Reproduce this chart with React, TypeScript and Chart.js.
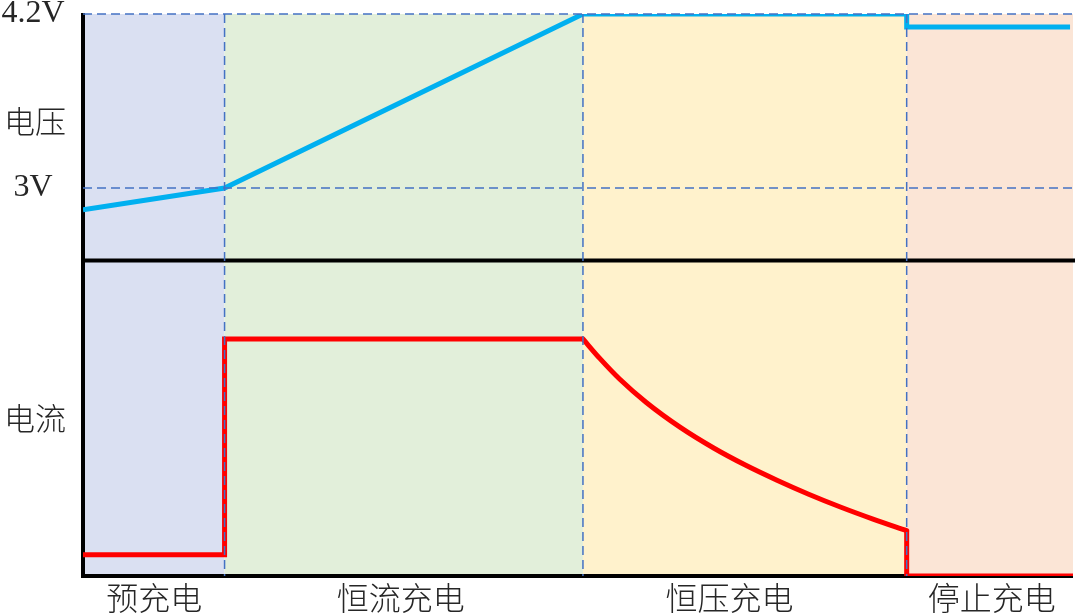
import { useEffect, useRef } from "react";
import { Chart, registerables } from "chart.js";

Chart.register(...registerables);

// time axis runs 0..100, phases split at these points
const phaseNames = ["预充电", "恒流充电", "恒压充电", "停止充电"];
const phaseEdges = [0, 14.3, 50.5, 83.2, 100];
const phaseLabelX = [7.2, 32.1, 65.3, 91.8];
const phaseColors = ["#DAE0F2", "#E2EFDA", "#FFF2CC", "#FBE5D6"];

const voltageTicks = [4.2, 3];
const voltageTickLabels = ["4.2V", "3V"];
const voltageSplit = 2.5;

const panelTitles = ["电压", "电流"];
const panelTitleAt = [3.46, 0.667];

const voltageX = [0, 14.3, 50.5, 83.2, 83.2, 99.7];
const voltageY = [2.85, 3.0, 4.2, 4.2, 4.11, 4.11];

const currentStepX = [0, 14.3, 14.3, 50.5];
const currentStepY = [0.09, 0.09, 1.0, 1.0];

const currentTaperX = [50.5, 52.2, 54.2, 56.9, 60.3, 63.7, 66.9, 70.1, 73.3, 76.5, 79.8, 83.2];
const currentTaperY = [1.0, 0.918, 0.831, 0.732, 0.628, 0.54, 0.468, 0.404, 0.345, 0.291, 0.24, 0.191];

const currentStopX = [83.2, 83.2, 100];
const currentStopY = [0.191, 0, 0];

const toPoints = (xs: number[], ys: number[]) => xs.map((x, i) => ({ x, y: ys[i] }));

const TEXT_COLOR = "#262626";
const DASH_COLOR = "#4472C4";
const CJK_FONT = '"Noto Sans CJK SC", sans-serif';

const phasePlugin = {
  id: "phases",
  beforeDatasetsDraw(chart: any) {
    const { ctx, chartArea, scales } = chart;
    const { left, right, top, bottom } = chartArea;
    ctx.save();
    phaseColors.forEach((color, i) => {
      const x0 = scales.x.getPixelForValue(phaseEdges[i]);
      const x1 = scales.x.getPixelForValue(phaseEdges[i + 1]);
      ctx.fillStyle = color;
      ctx.fillRect(x0, top, x1 - x0, bottom - top);
    });

    ctx.strokeStyle = "#000";
    ctx.lineWidth = 4;
    ctx.beginPath();
    ctx.moveTo(left, top - 1);
    ctx.lineTo(left, bottom + 2);
    ctx.moveTo(left, bottom);
    ctx.lineTo(right, bottom);
    const mid = scales.yV.getPixelForValue(voltageSplit);
    ctx.moveTo(left, mid);
    ctx.lineTo(right + 2, mid);
    ctx.stroke();
    ctx.restore();
  },
  afterDatasetsDraw(chart: any) {
    const { ctx, chartArea, scales } = chart;
    const { left, right, top, bottom } = chartArea;
    ctx.save();
    ctx.strokeStyle = DASH_COLOR;
    ctx.lineWidth = 1.5;
    ctx.setLineDash([9, 5]);
    ctx.beginPath();
    voltageTicks.forEach((v) => {
      const y = scales.yV.getPixelForValue(v);
      ctx.moveTo(left, y);
      ctx.lineTo(right, y);
    });
    phaseEdges.slice(1, -1).forEach((e) => {
      const x = scales.x.getPixelForValue(e);
      ctx.moveTo(x, top);
      ctx.lineTo(x, bottom);
    });
    ctx.stroke();
    ctx.restore();
  },
  afterDraw(chart: any) {
    const { ctx, chartArea, scales } = chart;
    ctx.save();
    ctx.fillStyle = TEXT_COLOR;
    ctx.textAlign = "center";
    ctx.textBaseline = "middle";

    ctx.font = '32px "Liberation Serif", "Times New Roman", serif';
    voltageTicks.forEach((v, i) => {
      ctx.fillText(voltageTickLabels[i], chartArea.left - 50, scales.yV.getPixelForValue(v));
    });

    ctx.font = "300 31px " + CJK_FONT;
    ctx.fillText(panelTitles[0], chartArea.left - 48, scales.yV.getPixelForValue(panelTitleAt[0]));
    ctx.fillText(panelTitles[1], chartArea.left - 48, scales.yI.getPixelForValue(panelTitleAt[1]));

    ctx.font = "300 32px " + CJK_FONT;
    phaseNames.forEach((name, i) => {
      ctx.fillText(name, scales.x.getPixelForValue(phaseLabelX[i]), chartArea.bottom + 22);
    });
    ctx.restore();
  },
};

export default function App() {
  const canvasRef = useRef<HTMLCanvasElement>(null);

  useEffect(() => {
    const canvas = canvasRef.current;
    if (!canvas) return;

    const red = {
      borderColor: "#FF0000",
      borderWidth: 5,
      yAxisID: "yI",
      pointRadius: 0,
      borderJoinStyle: "miter" as const,
    };

    const chart = new Chart(canvas, {
      type: "line",
      data: {
        datasets: [
          {
            data: toPoints(voltageX, voltageY),
            borderColor: "#00B0F0",
            borderWidth: 5,
            yAxisID: "yV",
            pointRadius: 0,
            borderJoinStyle: "miter",
          },
          { ...red, data: toPoints(currentStepX, currentStepY) },
          { ...red, data: toPoints(currentTaperX, currentTaperY), cubicInterpolationMode: "monotone", borderCapStyle: "round" },
          { ...red, data: toPoints(currentStopX, currentStopY) },
        ],
      },
      options: {
        animation: false,
        responsive: false,
        devicePixelRatio: 1,
        layout: { padding: { left: 83, right: 7, top: 14, bottom: 40 } },
        plugins: {
          legend: { display: false },
          tooltip: { enabled: false },
        },
        scales: {
          x: { type: "linear", min: 0, max: 100, display: false },
          yV: { type: "linear", min: 0.324, max: 4.2, display: false },
          yI: { type: "linear", min: 0, max: 2.371, display: false },
        },
      },
      plugins: [phasePlugin],
    });

    return () => chart.destroy();
  }, []);

  return (
    <div style={{ position: "absolute", left: 0, top: 0, width: 1080, height: 616, background: "#fff" }}>
      <canvas ref={canvasRef} width={1080} height={616} style={{ display: "block" }} />
    </div>
  );
}
